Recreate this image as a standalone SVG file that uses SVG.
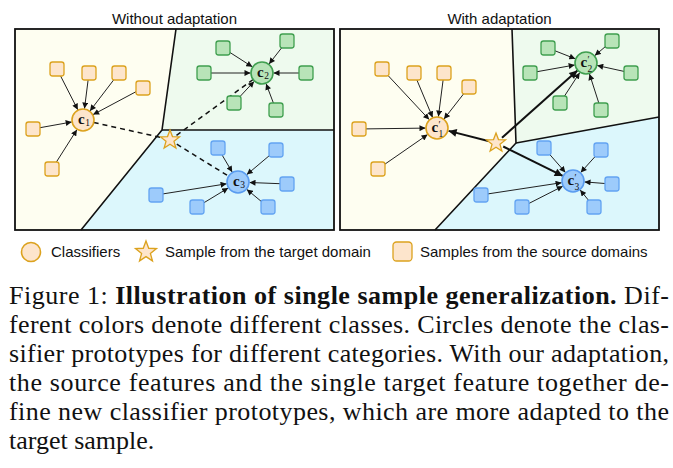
<svg xmlns="http://www.w3.org/2000/svg" width="673" height="468" viewBox="0 0 673 468">
<style>
.ttl{font-family:"Liberation Sans",Arial,sans-serif;font-size:15px;fill:#111}
.leg{font-family:"Liberation Sans",Arial,sans-serif;font-size:15px;fill:#111}
.cap{font-family:"Liberation Serif","Times New Roman",serif;font-size:26px;fill:#111}
.lbl{font-family:"Liberation Serif","Times New Roman",serif;font-size:15px;fill:#111;font-weight:bold}
.sub{font-family:"Liberation Serif","Times New Roman",serif;font-size:9.5px;fill:#111}
.ys{fill:#fde5cc;stroke:#dca21e;stroke-width:1.3}
.gs{fill:#b8e4b8;stroke:#3f9f4f;stroke-width:1.3}
.bs{fill:#9dcbfb;stroke:#63a4f2;stroke-width:1.3}
.yc{fill:#fde5cc;stroke:#dca21e;stroke-width:1.6}
.gc{fill:#b8e4b8;stroke:#3f9f4f;stroke-width:1.6}
.bc{fill:#9dcbfb;stroke:#5a9cf0;stroke-width:1.6}
.bd{fill:none;stroke:#111;stroke-width:1.6}
.frame{fill:none;stroke:#111;stroke-width:1.8}
.thin{stroke:#222;stroke-width:1;fill:none;marker-end:url(#ah)}
.dash{stroke:#111;stroke-width:1.5;fill:none;stroke-dasharray:5 4}
.thick{stroke:#111;stroke-width:2;fill:none;marker-end:url(#ahb)}
</style>
<defs>
<marker id="ah" viewBox="0 0 10 10" refX="10" refY="5" markerWidth="6.5" markerHeight="6" markerUnits="userSpaceOnUse" orient="auto"><path d="M0,0 L10,5 L0,10 z" fill="#111"/></marker>
<marker id="ahb" viewBox="0 0 10 10" refX="10" refY="5" markerWidth="10" markerHeight="8" markerUnits="userSpaceOnUse" orient="auto"><path d="M0,0 L10,5 L0,10 z" fill="#111"/></marker>
<path id="star" d="M0,-10 L2.47,-3.4 L9.51,-3.09 L3.99,1.3 L5.88,8.09 L0,4.2 L-5.88,8.09 L-3.99,1.3 L-9.51,-3.09 L-2.47,-3.4 Z"/>
</defs>

<!-- titles -->
<text class="ttl" x="174.5" y="24" text-anchor="middle">Without adaptation</text>
<text class="ttl" x="499.5" y="24" text-anchor="middle">With adaptation</text>

<!-- left panel regions -->
<g id="left-regions">
<polygon points="15,29 176,29 162,130 81,230 15,230" fill="#fefef1"/>
<polygon points="176,29 334,29 334,130 162,130" fill="#eefaee"/>
<polygon points="162,130 334,130 334,230 81,230" fill="#dcf7fc"/>
<polyline class="bd" points="176,29 162,130 81,230"/>
<line class="bd" x1="162" y1="130" x2="334" y2="130"/>
<rect class="frame" x="15" y="29" width="319" height="201"/>
</g>

<!-- right panel regions -->
<g id="right-regions">
<polygon points="340,29 512,29 516,143 435,230 340,230" fill="#fefef1"/>
<polygon points="512,29 659,29 659,117 516,143" fill="#eefaee"/>
<polygon points="516,143 659,117 659,230 435,230" fill="#dcf7fc"/>
<polyline class="bd" points="512,29 516,143 435,230"/>
<line class="bd" x1="516" y1="143" x2="659" y2="117"/>
<rect class="frame" x="340" y="29" width="319" height="201"/>
</g>

<!-- connectors -->
<g id="connectors">
<!-- left: yellow -> c1 -->
<line class="thin" x1="60.6" y1="76" x2="77.8" y2="109.8"/>
<line class="thin" x1="88.1" y1="80" x2="84.5" y2="108.6"/>
<line class="thin" x1="113.6" y1="80" x2="90" y2="110.9"/>
<line class="thin" x1="136" y1="91.7" x2="93.1" y2="114.6"/>
<line class="thin" x1="40" y1="127.7" x2="71.7" y2="122"/>
<line class="thin" x1="56.4" y1="162" x2="76.9" y2="129.7"/>
<!-- left: green -> c2 -->
<line class="thin" x1="281.5" y1="48" x2="269.1" y2="63.9"/>
<line class="thin" x1="230" y1="52.5" x2="252.3" y2="66.8"/>
<line class="thin" x1="211" y1="73" x2="250.5" y2="73"/>
<line class="thin" x1="299" y1="73" x2="273.5" y2="73"/>
<line class="thin" x1="240.5" y1="96" x2="254.1" y2="81.4"/>
<line class="thin" x1="273.4" y1="103" x2="266.1" y2="83.8"/>
<!-- left: blue -> c3 -->
<line class="thin" x1="222.1" y1="155" x2="232.2" y2="172.1"/>
<line class="thin" x1="269" y1="155.9" x2="246.8" y2="174.6"/>
<line class="thin" x1="280" y1="183.7" x2="249.5" y2="182.5"/>
<line class="thin" x1="163" y1="193.9" x2="226.6" y2="183.8"/>
<line class="thin" x1="204" y1="202.7" x2="228.2" y2="188"/>
<line class="thin" x1="261" y1="201.2" x2="246.8" y2="189.4"/>
<!-- left: dashed star links -->
<line class="dash" x1="93.7" y1="122.5" x2="161" y2="137.5"/>
<line class="dash" x1="176.5" y1="135.3" x2="253.1" y2="79.5"/>
<line class="dash" x1="176.8" y1="144.2" x2="228.6" y2="176.2"/>

<!-- right: yellow -> c1' -->
<line class="thin" x1="388.5" y1="76" x2="429.2" y2="119.6"/>
<line class="thin" x1="416.9" y1="80" x2="432.6" y2="117.4"/>
<line class="thin" x1="443.1" y1="80" x2="438.4" y2="116.6"/>
<line class="thin" x1="463.5" y1="94" x2="444" y2="119"/>
<line class="thin" x1="366" y1="128.9" x2="425.5" y2="128.1"/>
<line class="thin" x1="385" y1="164.1" x2="427.6" y2="134.6"/>
<!-- right: green -> c2' -->
<line class="thin" x1="605" y1="46.9" x2="594.8" y2="55.6"/>
<line class="thin" x1="555" y1="50.8" x2="575.3" y2="58.8"/>
<line class="thin" x1="537" y1="71.7" x2="574.7" y2="65"/>
<line class="thin" x1="624" y1="71.4" x2="597.2" y2="65.5"/>
<line class="thin" x1="564.5" y1="96" x2="579.7" y2="72.7"/>
<line class="thin" x1="598.8" y1="103" x2="589.5" y2="74"/>
<!-- right: blue -> c3' -->
<line class="thin" x1="550.2" y1="155" x2="565.4" y2="172.4"/>
<line class="thin" x1="594.7" y1="157" x2="580.7" y2="172.5"/>
<line class="thin" x1="605" y1="183.5" x2="584.5" y2="181.9"/>
<line class="thin" x1="488" y1="193.9" x2="561.6" y2="182.7"/>
<line class="thin" x1="529" y1="203.4" x2="562.8" y2="186.2"/>
<line class="thin" x1="588.3" y1="200" x2="580.2" y2="190"/>
<!-- right: bold star links -->
<line class="thick" x1="488.2" y1="141" x2="448.6" y2="130.9"/>
<line class="thick" x1="502" y1="137.7" x2="577.4" y2="70.6"/>
<line class="thick" x1="503.2" y1="146.5" x2="562.7" y2="175.9"/>
</g>

<!-- left panel nodes -->
<g id="L-y1"><rect class="ys" x="50" y="62" width="14" height="14" rx="2.5"/></g>
<g id="L-y2"><rect class="ys" x="82" y="66" width="14" height="14" rx="2.5"/></g>
<g id="L-y3"><rect class="ys" x="112" y="66" width="14" height="14" rx="2.5"/></g>
<g id="L-y4"><rect class="ys" x="136" y="81" width="14" height="14" rx="2.5"/></g>
<g id="L-y5"><rect class="ys" x="26" y="122" width="14" height="14" rx="2.5"/></g>
<g id="L-y6"><rect class="ys" x="45" y="162" width="14" height="14" rx="2.5"/></g>
<g id="L-g1"><rect class="gs" x="280" y="34" width="14" height="14" rx="2.5"/></g>
<g id="L-g2"><rect class="gs" x="216" y="41" width="14" height="14" rx="2.5"/></g>
<g id="L-g3"><rect class="gs" x="197" y="66" width="14" height="14" rx="2.5"/></g>
<g id="L-g4"><rect class="gs" x="299" y="66" width="14" height="14" rx="2.5"/></g>
<g id="L-g5"><rect class="gs" x="227" y="96" width="14" height="14" rx="2.5"/></g>
<g id="L-g6"><rect class="gs" x="269" y="103" width="14" height="14" rx="2.5"/></g>
<g id="L-b1"><rect class="bs" x="211" y="141" width="14" height="14" rx="2.5"/></g>
<g id="L-b2"><rect class="bs" x="269" y="143" width="14" height="14" rx="2.5"/></g>
<g id="L-b3"><rect class="bs" x="280" y="177" width="14" height="14" rx="2.5"/></g>
<g id="L-b4"><rect class="bs" x="149" y="188" width="14" height="14" rx="2.5"/></g>
<g id="L-b5"><rect class="bs" x="190" y="200" width="14" height="14" rx="2.5"/></g>
<g id="L-b6"><rect class="bs" x="261" y="200" width="14" height="14" rx="2.5"/></g>

<g id="L-c1"><circle class="yc" cx="83" cy="120" r="11"/><text class="lbl" x="78" y="123.5">c</text><text class="sub" x="85.2" y="125.5">1</text></g>
<g id="L-c2"><circle class="gc" cx="262" cy="73" r="11"/><text class="lbl" x="257" y="76.5">c</text><text class="sub" x="264.2" y="78.5">2</text></g>
<g id="L-c3"><circle class="bc" cx="238" cy="182" r="11"/><text class="lbl" x="233" y="185.5">c</text><text class="sub" x="240.2" y="187.5">3</text></g>
<g id="L-star"><use href="#star" x="170" y="140" fill="#fde5cc" stroke="#dca21e" stroke-width="1.3"/></g>

<!-- right panel nodes -->
<g id="R-y1"><rect class="ys" x="375" y="62" width="14" height="14" rx="2.5"/></g>
<g id="R-y2"><rect class="ys" x="407" y="66" width="14" height="14" rx="2.5"/></g>
<g id="R-y3"><rect class="ys" x="437" y="66" width="14" height="14" rx="2.5"/></g>
<g id="R-y4"><rect class="ys" x="462" y="80" width="14" height="14" rx="2.5"/></g>
<g id="R-y5"><rect class="ys" x="352" y="122" width="14" height="14" rx="2.5"/></g>
<g id="R-y6"><rect class="ys" x="371" y="162" width="14" height="14" rx="2.5"/></g>
<g id="R-g1"><rect class="gs" x="605" y="34" width="14" height="14" rx="2.5"/></g>
<g id="R-g2"><rect class="gs" x="541" y="41" width="14" height="14" rx="2.5"/></g>
<g id="R-g3"><rect class="gs" x="523" y="66" width="14" height="14" rx="2.5"/></g>
<g id="R-g4"><rect class="gs" x="624" y="66" width="14" height="14" rx="2.5"/></g>
<g id="R-g5"><rect class="gs" x="553" y="96" width="14" height="14" rx="2.5"/></g>
<g id="R-g6"><rect class="gs" x="594" y="103" width="14" height="14" rx="2.5"/></g>
<g id="R-b1"><rect class="bs" x="537" y="141" width="14" height="14" rx="2.5"/></g>
<g id="R-b2"><rect class="bs" x="594" y="143" width="14" height="14" rx="2.5"/></g>
<g id="R-b3"><rect class="bs" x="605" y="177" width="14" height="14" rx="2.5"/></g>
<g id="R-b4"><rect class="bs" x="474" y="188" width="14" height="14" rx="2.5"/></g>
<g id="R-b5"><rect class="bs" x="515" y="200" width="14" height="14" rx="2.5"/></g>
<g id="R-b6"><rect class="bs" x="587" y="200" width="14" height="14" rx="2.5"/></g>

<g id="R-c1"><circle class="yc" cx="437" cy="128" r="11"/><text class="lbl" x="431.5" y="131.5">c</text><text class="sub" x="438.5" y="127.5">′</text><text class="sub" x="438.5" y="137">1</text></g>
<g id="R-c2"><circle class="gc" cx="586" cy="63" r="11"/><text class="lbl" x="580.5" y="66.5">c</text><text class="sub" x="587.5" y="62.5">′</text><text class="sub" x="587.5" y="72">2</text></g>
<g id="R-c3"><circle class="bc" cx="573" cy="181" r="11"/><text class="lbl" x="567.5" y="184.5">c</text><text class="sub" x="574.5" y="180.5">′</text><text class="sub" x="574.5" y="190">3</text></g>
<g id="R-star"><use href="#star" x="496" y="143" fill="#fde5cc" stroke="#dca21e" stroke-width="1.3"/></g>

<!-- legend -->
<g id="legend">
<circle class="yc" cx="31" cy="252" r="9.5"/>
<text class="leg" x="51" y="257">Classifiers</text>
<use href="#star" transform="translate(146,252) scale(1.1)" fill="#fde5cc" stroke="#dca21e" stroke-width="1.2"/>
<text class="leg" x="165" y="257">Sample from the target domain</text>
<rect class="ys" x="393" y="242" width="19" height="19" rx="3.5"/>
<text class="leg" x="420" y="257">Samples from the source domains</text>
</g>

<!-- caption -->
<g id="caption">
<text class="cap" x="9" y="304" textLength="660" lengthAdjust="spacing">Figure 1: <tspan font-weight="bold">Illustration of single sample generalization.</tspan> Dif-</text>
<text class="cap" x="9" y="333" textLength="660" lengthAdjust="spacing">ferent colors denote different classes. Circles denote the clas-</text>
<text class="cap" x="9" y="362" textLength="660" lengthAdjust="spacing">sifier prototypes for different categories. With our adaptation,</text>
<text class="cap" x="9" y="391" textLength="660" lengthAdjust="spacing">the source features and the single target feature together de-</text>
<text class="cap" x="9" y="420" textLength="660" lengthAdjust="spacing">fine new classifier prototypes, which are more adapted to the</text>
<text class="cap" x="9" y="449">target sample.</text>
</g>
</svg>
